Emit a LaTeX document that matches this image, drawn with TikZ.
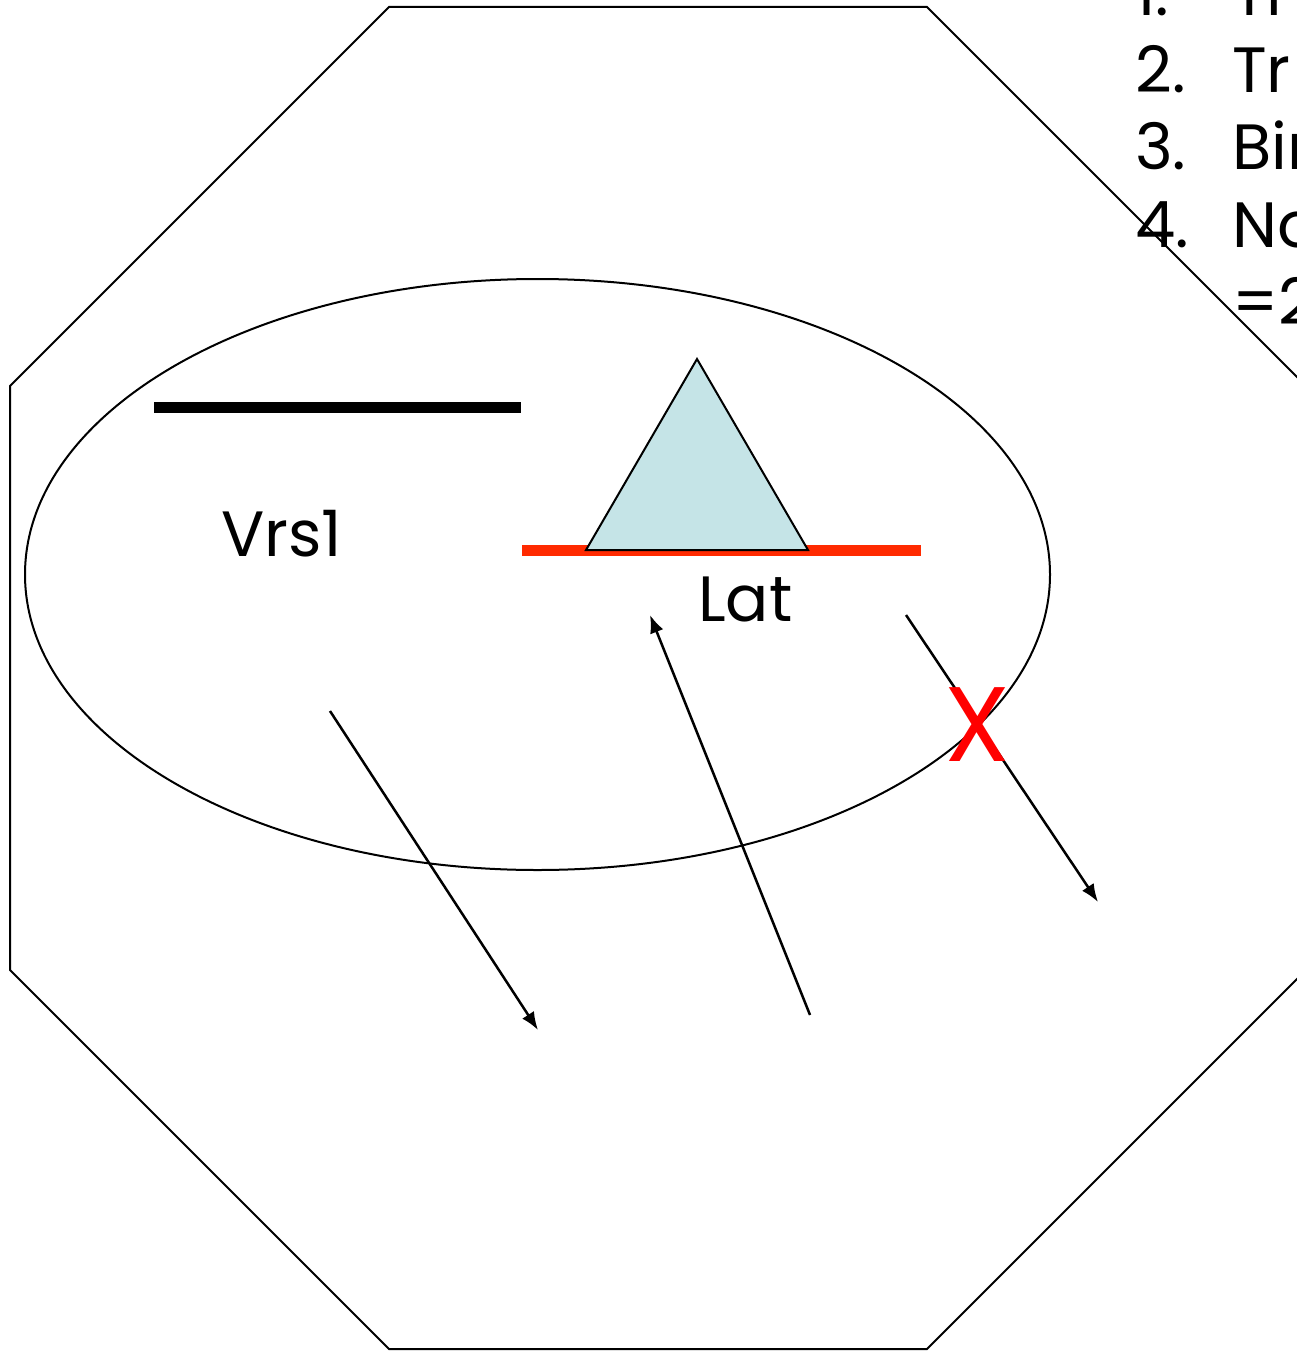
\documentclass[tikz,border=0pt]{standalone}
\usepackage{fontspec}
\setmainfont{Poppins}
\usetikzlibrary{arrows.meta}
\definecolor{redbar}{HTML}{FF2A00}
\definecolor{tri}{HTML}{C5E4E7}
\begin{document}
\begin{tikzpicture}[x=1pt,y=-1pt,
  thin/.style={line width=2pt},
  arr/.style={line width=2.5pt,-{Latex[length=18pt,width=14pt]}},
  lbl/.style={font=\fontsize{64}{64}\selectfont,inner sep=0pt,anchor=base west}]
\useasboundingbox (0,0) rectangle (1297,1351);
\clip (0,0) rectangle (1297,1351);
\fill[white] (0,0) rectangle (1297,1351);
% octagon
\draw[thin] (389,7) -- (927,7) -- (1306,386) -- (1306,970) -- (927,1349) -- (389,1349) -- (10,970) -- (10,386) -- cycle;
% ellipse
\draw[thin] (537.5,574.5) ellipse [x radius=512.5, y radius=295.5];
% black bar
\draw[line width=11pt] (154,407) -- (521,407);
% red bar
\draw[line width=11pt,redbar] (522,550) -- (921,550);
% triangle
\filldraw[fill=tri,draw=black,line width=2pt] (697,359) -- (808,550) -- (586,550) -- cycle;
% labels
\node[lbl] (vrs) at (221,556) {Vrs1};
\node[lbl] (lat) at (698,621) {Lat};
% arrows
\coordinate (a1s) at (330,711); \coordinate (a1e) at (538,1030);
\coordinate (a2s) at (810,1015); \coordinate (a2e) at (650,615);
\coordinate (a3s) at (906,615); \coordinate (a3e) at (1098,902);
\draw[arr] (a1s) -- (a1e);
\draw[arr] (a2s) -- (a2e);
\draw[arr] (a3s) -- (a3e);
% red X
\node[font=\fontsize{106}{106}\selectfont,text=red,inner sep=0pt] (x) at (977,725) {X};
% list (clipped by the picture edge, as in the reference)
\node[lbl] (n1) at (1135,16) {1.};   \node[lbl] (t1) at (1232,16) {Tr};
\node[lbl] (n2) at (1135,93) {2.};   \node[lbl] (t2) at (1232,93) {Tr};
\node[lbl] (n3) at (1135,170) {3.};  \node[lbl] (t3) at (1232,170) {Bin};
\node[lbl] (n4) at (1135,247) {4.};  \node[lbl] (t4) at (1232,247) {No};
\node[lbl] (t5) at (1232,324) {=2};
\end{tikzpicture}
\end{document}
